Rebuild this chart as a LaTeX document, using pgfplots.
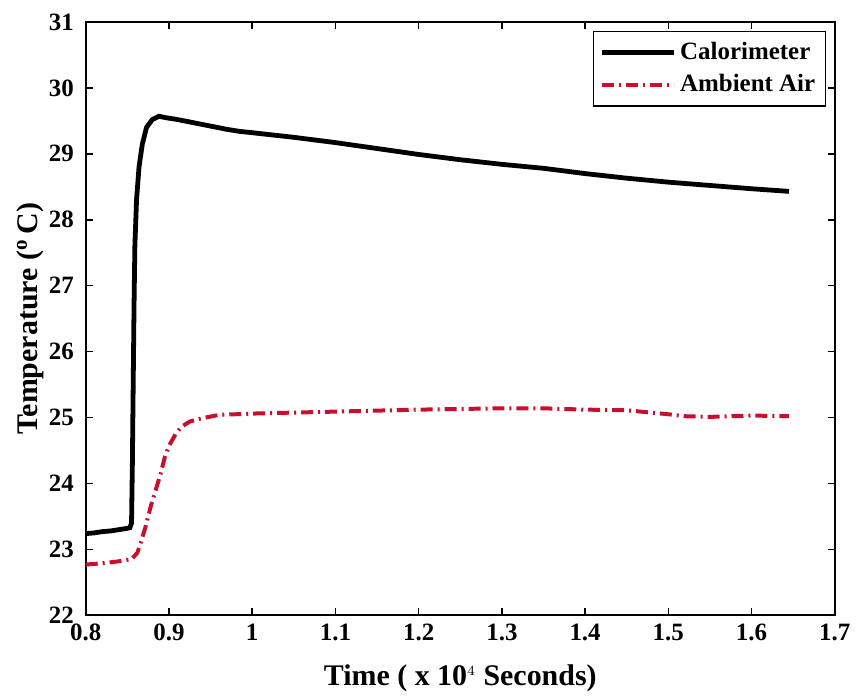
\documentclass[border=0pt]{standalone}
\usepackage{fontspec}
\setmainfont{Liberation Serif}
\usepackage{pgfplots}
\pgfplotsset{compat=1.18}
\definecolor{ambred}{RGB}{200,16,46}
\begin{document}
\begin{tikzpicture}
\begin{axis}[
  scale only axis,
  width=375.5pt, height=297.5pt,
  xmin=0.8, xmax=1.7, ymin=22, ymax=31,
  xtick={0.8,0.9,...,1.7},
  xticklabels={0.8,0.9,1,1.1,1.2,1.3,1.4,1.5,1.6,1.7},
  ytick={22,...,31},
  tick align=inside,
  major tick length=3.5pt,
  tick style={black, line width=0.8pt},
  axis line style={line width=0.9pt},
  /pgf/number format/assume math mode=true,
  ticklabel style={font=\fontsize{12.5}{14}\selectfont\bfseries},
  yticklabel style={xshift=-2.5pt},
  xticklabel style={yshift=-1pt},
  xlabel={Time ( x 10$^{\scriptscriptstyle 4}$ Seconds)},
  ylabel={Temperature ($^{\mathbf{o}}$\,C)},
  label style={font=\fontsize{15}{17}\selectfont\bfseries},
  xlabel style={inner ysep=1.5pt, yshift=-6.9pt},
  ylabel style={inner sep=1pt, yshift=-2pt},
  legend style={at={(0.988,0.985)}, anchor=north east, draw=black, line width=0.6pt,
    font=\fontsize{12.5}{14}\selectfont\bfseries, inner xsep=3pt, inner ysep=3.5pt,
    row sep=2pt, legend cell align=left},
  legend image code/.code={\draw[#1] (0pt,0pt) -- (36pt,0pt);},
]
\addplot[black, line width=2.4pt] coordinates {
(0.800,23.24) (0.810,23.25) (0.820,23.27) (0.830,23.28) (0.840,23.30) (0.850,23.32)
(0.853,23.33) (0.855,23.40) (0.856,24.30) (0.857,25.50) (0.858,26.70) (0.859,27.60)
(0.861,28.30) (0.864,28.80) (0.868,29.15) (0.873,29.40) (0.880,29.52) (0.888,29.57)
(0.895,29.55) (0.910,29.52) (0.930,29.47) (0.950,29.42) (0.970,29.37) (0.985,29.34)
(1.000,29.32) (1.050,29.25) (1.100,29.17) (1.150,29.08) (1.200,28.99) (1.250,28.91)
(1.300,28.84) (1.350,28.78) (1.400,28.70) (1.450,28.63) (1.500,28.57) (1.550,28.52)
(1.600,28.47) (1.645,28.43)
};
\addlegendentry{Calorimeter}
\addplot[ambred, line width=2pt, dash pattern=on 6pt off 2.5pt on 1pt off 2.5pt] coordinates {
(0.800,22.77) (0.820,22.79) (0.840,22.82) (0.855,22.85) (0.862,22.95) (0.866,23.10)
(0.872,23.35) (0.878,23.65) (0.884,23.90) (0.890,24.15) (0.895,24.40) (0.900,24.57)
(0.908,24.75) (0.915,24.86) (0.925,24.94) (0.940,24.99) (0.960,25.04) (1.000,25.06)
(1.100,25.09) (1.200,25.12) (1.300,25.14) (1.350,25.14) (1.400,25.12) (1.450,25.11)
(1.500,25.05) (1.520,25.02) (1.550,25.01) (1.600,25.03) (1.645,25.02)
};
\addlegendentry{Ambient Air}
\end{axis}
\path ([xshift=-43pt,yshift=11pt]current axis.north west);
\end{tikzpicture}
\end{document}
